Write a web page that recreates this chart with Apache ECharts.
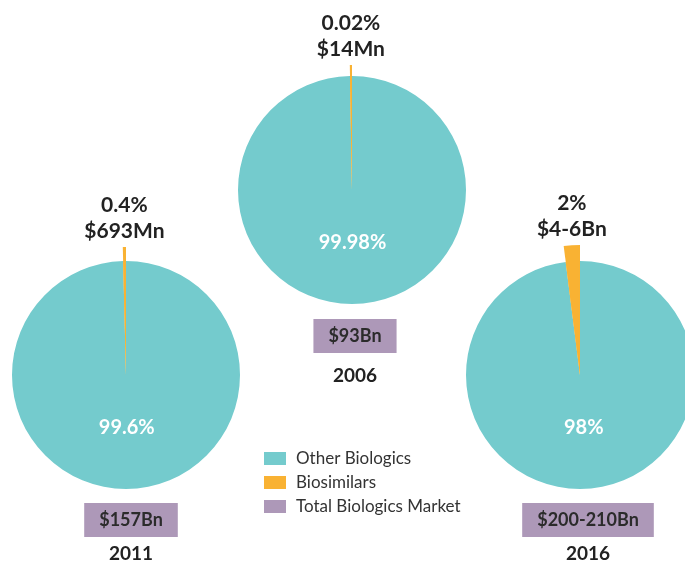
<!DOCTYPE html>
<html>
<head>
<meta charset="utf-8">
<script src="https://cdn.jsdelivr.net/npm/echarts@6/dist/echarts.min.js"></script>
<style>
  html, body { margin: 0; padding: 0; background: #fff; }
  #chart { width: 685px; height: 562px; }
</style>
</head>
<body>
<div id="chart"></div>
<script>
const years = ["2006", "2011", "2016"];
const totals = ["$93Bn", "$157Bn", "$200-210Bn"];
const otherShare = [99.98, 99.6, 98];
const biosimilarShare = [0.02, 0.4, 2];
const biosimilarValue = ["$14Mn", "$693Mn", "$4-6Bn"];
const legendNames = ["Other Biologics", "Biosimilars", "Total Biologics Market"];

const TEAL = "#74cbcd";
const ORANGE = "#f9b233";
const PURPLE = "#ad98b8";
const FONT = "Lato, 'DejaVu Sans', sans-serif";

// layout per pie: center, base radius, radius of the biosimilar wedge,
// total box position and year label top
const layout = [
  { center: [352, 190], r: 114, rOut: 125, box: [355, 319], yearTop: 366 },
  { center: [126, 375], r: 114, rOut: 128, box: [131, 503], yearTop: 544 },
  { center: [580, 375], r: 114, rOut: 130, box: [588, 503], yearTop: 544 },
];

function pieData(i, teal) {
  return [
    { name: legendNames[0], value: otherShare[i], itemStyle: { color: teal } },
    { name: legendNames[1], value: biosimilarShare[i], itemStyle: { color: ORANGE } },
  ];
}

const series = [];
years.forEach((year, i) => {
  const l = layout[i];
  series.push({
    type: "pie",
    center: l.center,
    radius: [0, l.r],
    startAngle: 90,
    clockwise: true,
    minAngle: 1,
    silent: true,
    avoidLabelOverlap: false,
    itemStyle: { borderWidth: 0 },
    emphasis: { disabled: true },
    labelLine: { show: false },
    label: {
      show: true,
      position: "inside",
      offset: [0, -7],
      color: "#fff",
      fontFamily: FONT,
      fontWeight: "bold",
      fontSize: 20,
      formatter: (p) => (p.dataIndex === 0 ? p.value + "%" : ""),
    },
    data: pieData(i, TEAL),
  });
  series.push({
    type: "pie",
    center: l.center,
    radius: [0, l.rOut],
    startAngle: 90,
    clockwise: true,
    minAngle: 1,
    silent: true,
    avoidLabelOverlap: false,
    legendHoverLink: false,
    itemStyle: { borderWidth: 0 },
    emphasis: { disabled: true },
    labelLine: { show: false, length: 0, length2: 0 },
    label: {
      show: true,
      position: "outside",
      color: "#222",
      fontFamily: FONT,
      fontWeight: "bold",
      fontSize: 21,
      lineHeight: 26,
      formatter: (p) =>
        p.dataIndex === 1 ? biosimilarShare[i] + "%\n" + biosimilarValue[i] : "",
    },
    labelLayout: (p) => ({
      x: p.rect.x + p.rect.width / 2,
      y: p.rect.y - 3,
      align: "center",
      verticalAlign: "bottom",
    }),
    data: pieData(i, "transparent"),
  });
});

// empty series so the legend gets the total market swatch
series.push({
  type: "graph",
  name: legendNames[2],
  layout: "none",
  itemStyle: { color: PURPLE },
  data: [],
});

const titles = [];
years.forEach((year, i) => {
  titles.push({
    text: "{box|" + totals[i] + "}",
    left: layout[i].box[0],
    top: layout[i].box[1],
    textAlign: "center",
    padding: 0,
    textStyle: {
      rich: {
        box: {
          color: "#2b2b2b",
          fontFamily: FONT,
          fontWeight: "bold",
          fontSize: 18,
          height: 34,
          lineHeight: 34,
          backgroundColor: PURPLE,
          padding: [0, 15],
        },
      },
    },
  });
  titles.push({
    text: year,
    left: layout[i].box[0],
    top: layout[i].yearTop,
    textAlign: "center",
    padding: 0,
    textStyle: {
      color: "#222",
      fontFamily: FONT,
      fontWeight: "bold",
      fontSize: 19,
    },
  });
});

const chart = echarts.init(document.getElementById("chart"), null, { renderer: "canvas" });
chart.setOption({
  animation: false,
  backgroundColor: "#fff",
  title: titles,
  legend: {
    data: legendNames,
    orient: "vertical",
    left: 264,
    top: 450,
    padding: 0,
    icon: "rect",
    itemWidth: 22,
    itemHeight: 13,
    itemGap: 7,
    selectedMode: false,
    textStyle: {
      color: "#333",
      fontFamily: FONT,
      fontSize: 17,
      padding: [0, 0, 0, 5],
    },
  },
  series,
});
</script>
</body>
</html>
